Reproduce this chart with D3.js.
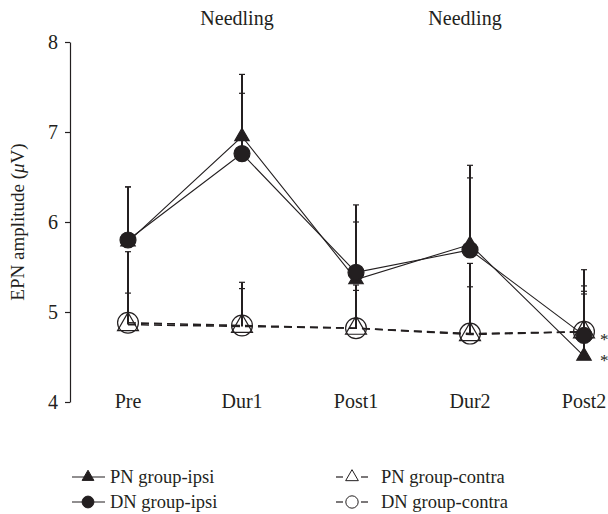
<!DOCTYPE html>
<html>
<head>
<meta charset="utf-8">
<script src="https://cdn.jsdelivr.net/npm/d3@7"></script>
<style>
  body { margin: 0; background: #fff; }
  text { font-family: "Liberation Serif", "DejaVu Serif", serif; fill: #231f20; }
</style>
</head>
<body>
<div id="chart-area"></div>
<script>
// data
var categories = ["Pre", "Dur1", "Post1", "Dur2", "Post2"];
var pnIpsi = [5.78, 6.95, 5.36, 5.75, 4.51];
var dnIpsi = [5.80, 6.76, 5.44, 5.69, 4.74];
var pnContra = [4.86, 4.84, 4.82, 4.75, 4.78];
var dnContra = [4.88, 4.85, 4.82, 4.76, 4.78];
// upper error (SD)
var pnIpsiErr = [0.61, 0.69, 0.64, 0.88, 0.96];
var dnIpsiErr = [0.59, 0.67, 0.75, 0.80, 0.55];
var pnContraErr = [0.81, 0.49, 0.48, 0.79, 0.45];
var dnContraErr = [0.33, 0.41, 0.42, 0.52, 0.42];
var yTicks = [4, 5, 6, 7, 8];
var needlingAt = ["Dur1", "Dur2"];
var legendLabels = ["PN group-ipsi", "DN group-ipsi", "PN group-contra", "DN group-contra"];

var width = 608, height = 514;
var ink = "#231f20";

var svg = d3.select("#chart-area")
  .append("svg")
  .attr("width", width)
  .attr("height", height);

var x = d3.scalePoint()
  .domain(categories)
  .range([128, 584]);
var y = d3.scaleLinear()
  .domain([4, 8])
  .range([402, 42]);

// y axis
var yAxis = svg.append("g")
  .attr("transform", "translate(70,0)")
  .call(d3.axisLeft(y).tickValues(yTicks).tickFormat(d3.format("d"))
    .tickSize(5).tickSizeOuter(0).tickPadding(7));
yAxis.select(".domain").attr("stroke", ink).attr("stroke-width", 1.2);
yAxis.selectAll(".tick line").attr("stroke", ink).attr("stroke-width", 1.2);
yAxis.selectAll(".tick text")
  .style("font-family", "Liberation Serif, serif")
  .style("font-size", "20px")
  .attr("fill", ink);

// axis title
var yl = svg.append("text")
  .attr("transform", "translate(24,222) rotate(-90)")
  .attr("text-anchor", "middle")
  .style("font-size", "19px");
yl.append("tspan").text("EPN amplitude (");
yl.append("tspan").style("font-style", "italic").text("\u03bc");
yl.append("tspan").text("V)");

// category labels
svg.selectAll(".cat")
  .data(categories)
  .enter().append("text")
  .attr("class", "cat")
  .attr("x", function (d) { return x(d); })
  .attr("y", 408)
  .attr("text-anchor", "middle")
  .style("font-size", "20px")
  .text(function (d) { return d; });

// needling labels
svg.selectAll(".needle")
  .data(needlingAt)
  .enter().append("text")
  .attr("x", function (d) { return x(d) - 5; })
  .attr("y", 25)
  .attr("text-anchor", "middle")
  .style("font-size", "20px")
  .text("Needling");

var series = [
  { vals: pnContra, err: pnContraErr, dash: "8,5", sym: d3.symbolTriangle, size: 190, fill: "none" },
  { vals: dnContra, err: dnContraErr, dash: "8,5", sym: d3.symbolCircle, size: 340, fill: "none" },
  { vals: pnIpsi, err: pnIpsiErr, dash: null, sym: d3.symbolTriangle, size: 90, fill: ink },
  { vals: dnIpsi, err: dnIpsiErr, dash: null, sym: d3.symbolCircle, size: 200, fill: ink }
];

// error bars (upper only)
series.forEach(function (s) {
  var g = svg.append("g");
  categories.forEach(function (c, i) {
    var top = y(s.vals[i] + s.err[i]);
    g.append("line")
      .attr("x1", x(c)).attr("x2", x(c))
      .attr("y1", y(s.vals[i])).attr("y2", top)
      .attr("stroke", ink).attr("stroke-width", 2);
    g.append("line")
      .attr("x1", x(c) - 3).attr("x2", x(c) + 3)
      .attr("y1", top).attr("y2", top)
      .attr("stroke", ink).attr("stroke-width", 1.2);
  });
});

// lines
var line = d3.line()
  .x(function (d, i) { return x(categories[i]); })
  .y(function (d) { return y(d); });

series.forEach(function (s) {
  svg.append("path")
    .datum(s.vals)
    .attr("d", line)
    .attr("fill", "none")
    .attr("stroke", ink)
    .attr("stroke-width", s.dash ? 1.6 : 1.1)
    .attr("stroke-dasharray", s.dash);
});

// markers
series.forEach(function (s) {
  svg.selectAll(null)
    .data(s.vals)
    .enter().append("path")
    .attr("transform", function (d, i) { return "translate(" + x(categories[i]) + "," + y(d) + ")"; })
    .attr("d", d3.symbol().type(s.sym).size(s.size))
    .attr("fill", s.fill)
    .attr("stroke", ink)
    .attr("stroke-width", 1.2);
});

// significance marks
[dnIpsi[4], pnIpsi[4]].forEach(function (v) {
  svg.append("text")
    .attr("x", x("Post2") + 16)
    .attr("y", y(v) + 10)
    .attr("fill", ink)
    .style("fill", ink)
    .style("font-size", "17px")
    .text("*");
});

// Legend
var legendItems = [
  { label: legendLabels[0], sym: d3.symbolTriangle, size: 60, fill: ink, dash: false, lx: 72, ly: 477 },
  { label: legendLabels[1], sym: d3.symbolCircle, size: 110, fill: ink, dash: false, lx: 72, ly: 502 },
  { label: legendLabels[2], sym: d3.symbolTriangle, size: 70, fill: "none", dash: true, lx: 336, ly: 477 },
  { label: legendLabels[3], sym: d3.symbolCircle, size: 120, fill: "none", dash: true, lx: 336, ly: 502 }
];

legendItems.forEach(function (it) {
  var row = svg.append("g")
    .attr("transform", "translate(" + it.lx + "," + it.ly + ")");
  if (it.dash) {
    row.append("line").attr("x1", 0).attr("x2", 7).attr("y1", 0).attr("y2", 0)
      .attr("stroke", ink).attr("stroke-width", 1.2);
    row.append("line").attr("x1", 25).attr("x2", 32).attr("y1", 0).attr("y2", 0)
      .attr("stroke", ink).attr("stroke-width", 1.2);
  } else {
    row.append("line").attr("x1", 0).attr("x2", 33).attr("y1", 0).attr("y2", 0)
      .attr("stroke", ink).attr("stroke-width", 1.2);
  }
  row.append("path")
    .attr("transform", "translate(16,0)")
    .attr("d", d3.symbol().type(it.sym).size(it.size))
    .attr("fill", it.fill)
    .attr("stroke", ink)
    .attr("stroke-width", 1);
  row.append("text")
    .attr("x", it.dash ? 45 : 38)
    .attr("y", 6)
    .style("font-size", "18.5px")
    .text(it.label);
});
</script>
</body>
</html>
